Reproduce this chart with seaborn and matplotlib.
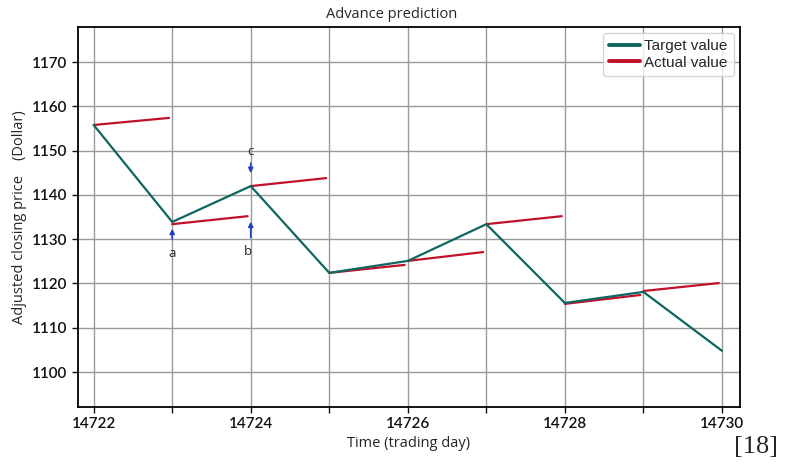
import numpy as np
import pandas as pd
import seaborn as sns
import matplotlib.pyplot as plt
from matplotlib.lines import Line2D

sns.set_style("white")
plt.rcParams['font.family'] = ['Lato', 'DejaVu Sans']

# data
days = [14722, 14723, 14724, 14725, 14726, 14727, 14728, 14729, 14730]
target = [1155.8, 1133.9, 1142.0, 1122.4, 1125.1, 1133.4, 1115.6, 1118.1, 1104.8]
# one-day-ahead predicted segments: start value at day i, end value at day i+1
actual_start = [1155.8, 1133.4, 1142.0, 1122.4, 1125.1, 1133.4, 1115.4, 1118.3]
actual_end = [1157.4, 1135.2, 1143.8, 1124.2, 1127.1, 1135.2, 1117.4, 1120.1]

df_t = pd.DataFrame({'day': days, 'price': target})
rows = []
for i in range(len(actual_start)):
    rows.append({'seg': i, 'day': days[i], 'price': actual_start[i]})
    rows.append({'seg': i, 'day': days[i] + 0.96, 'price': actual_end[i]})
df_a = pd.DataFrame(rows)

teal = '#0f6660'
red = '#c0112b'

fig = plt.figure(figsize=(7.9, 4.68), dpi=100)
ax = fig.add_axes([0.0987, 0.1303, 0.838, 0.8117])

sns.lineplot(data=df_a, x='day', y='price', units='seg', estimator=None,
             color=red, lw=1.6, ax=ax, zorder=3)
sns.lineplot(data=df_t, x='day', y='price', color=teal, lw=1.6, ax=ax, zorder=4)

ax.set_xlim(14721.8, 14730.23)
ax.set_ylim(1092.1, 1177.9)
ax.set_xticks(days)
ax.set_xticklabels([str(d) if d % 2 == 0 else '' for d in days])
ax.set_yticks(np.arange(1100, 1171, 10))
ax.tick_params(axis='both', direction='out', length=4, width=1, labelsize=11,
               left=True, bottom=True, colors='#111111')
for lab in ax.get_xticklabels() + ax.get_yticklabels():
    lab.set_fontweight('semibold')
ax.grid(True, color='#9a9a9a', lw=1)
for s in ax.spines.values():
    s.set_color('black')
    s.set_linewidth(1.3)

fig.text(392 / 790, 1 - 15 / 468, 'Advance prediction', fontsize=10.5,
         family='Open Sans', ha='center', va='center')
ax.set_xlabel('Time (trading day)', fontsize=10.5, family='Open Sans', labelpad=3)
ax.set_ylabel('Adjusted closing price    (Dollar)', fontsize=10.5, family='Open Sans')

# arrows a, b, c
arr = dict(arrowstyle='-|>', color='#1f3fbf', lw=1.2, mutation_scale=7)
ax.annotate('', xy=(14723, 1133.0), xytext=(14723, 1129.4), arrowprops=arr)
ax.annotate('', xy=(14724, 1134.6), xytext=(14724, 1129.8), arrowprops=arr)
ax.annotate('', xy=(14724, 1144.3), xytext=(14724, 1147.8), arrowprops=arr)
ax.text(14723, 1126.8, 'a', ha='center', va='center', fontsize=9.5, family='Open Sans')
ax.text(14724 - 0.03, 1127.2, 'b', ha='center', va='center', fontsize=9.5, family='Open Sans')
ax.text(14724, 1149.7, 'c', ha='center', va='center', fontsize=9.5, family='Open Sans')

handles = [Line2D([], [], color=teal, lw=2.8), Line2D([], [], color=red, lw=2.8)]
leg = ax.legend(handles, ['Target value', 'Actual value'], loc='upper right',
                frameon=True, handlelength=2.0, handletextpad=0.3,
                borderpad=0.4, labelspacing=0.15, borderaxespad=0.4,
                prop={'family': 'Liberation Sans', 'size': 11})
leg.get_frame().set_edgecolor('#cccccc')

fig.text(0.985, 0.045, '[18]', fontsize=19, family='Liberation Serif', ha='right', va='center')

fig.savefig('out.png', dpi=100)
